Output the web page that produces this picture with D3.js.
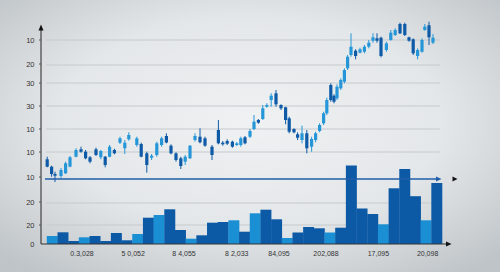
<!DOCTYPE html>
<html><head><meta charset="utf-8">
<script src="https://cdn.jsdelivr.net/npm/d3@7"></script>
<style>html,body{margin:0;padding:0;overflow:hidden;}svg{display:block;}</style>
</head><body>
<svg id="c" width="500" height="272"></svg>
<script>
// ---- data ----
const candleT = [1.3,2.4,3.25,4.75,5.9,7,8.5,9.75,10.9,12,13.5,14.7,15.8,16.9,18.1,19.5,20.7,21.7,23.7,24.8,26.2,27.4,28.7,29.9,31.1,32.25,33.5,34.7,35.8,37,38.25,39.5,40.75,42.5,44.1,45.2,46.3,47.6,48.7,49.7,50.75,52,53,54.1,55.2,56.2,57.3,58.5,59.75,60.9,61.8,63,63.9,65,66.2,67.4,68.4,69.4,70.4,71.2,72.2,73,73.75,74.7,75.6,76.4,77.25,78.4,79.5,80.6,81.7,82.75,83.75,84.75,86.1,87.2,88.3,89.5,90.7,91.75,92.8,93.9,95,95.7,96.75,97.75];
const candleOpen = [84.7,77.3,70,68,70.7,77.3,87.3,94.7,92.3,86.7,94.7,86.7,87.3,87.3,94,101.3,95.7,104.7,99,100,90.7,86.3,89,99,108,98.3,90.7,85.7,82.3,85.7,104,107.3,105.7,97.3,114,101.3,103,102.3,99,99,106.7,107.3,115,124,125,137.3,144,150.7,139,136.7,125.7,115,109.7,104,110.7,97.3,104,113,120.7,130.7,159,148.3,145.7,155.7,162.3,175.7,189,193.3,191.3,192.3,197.3,203.3,205.7,206.3,194,204,209,220,220,206.7,204.7,188,192.3,214,218.7,201.3];
const candleHigh = [87.3,78.3,72.3,76,82.3,88,95.7,97.3,94,88,96.3,94,88,99,95.3,107.3,104,111.7,107.3,101.3,92.3,90,102.3,107.3,110.7,99.7,91.7,87.3,89,99,110.7,115.7,107.3,99,124,103,104.7,103.3,102,107.3,108,115,129,125,139,140.7,150.7,154,139.7,137.3,127.3,115.7,111.7,118.3,114,107.3,112.3,120.7,132.3,146.3,160.7,149.7,159.7,165.7,175.7,189,210.7,194.7,196.3,199,204,210.7,210.7,207.3,202.3,214,215.7,221.3,221.3,207.3,205.7,195.7,205.7,220,222.3,210];
const candleLow = [76.7,67.3,62,65.7,70,76.7,86.7,91.3,84.7,80.7,88,84.7,76.7,86.7,89.7,100,90,103.3,97.3,86.7,71.3,84,87.3,97.3,100.7,89.7,82.3,75,79,85,102.3,100.7,97.3,84,99.7,98.3,99,96.3,98,97.3,99.7,106,114,120.3,124,136.3,137.3,137.3,134,119.7,110.7,110.7,104,100.7,90.7,92.3,101.7,111.7,119,129,142.3,140.7,144,154,160.7,174,187.3,184.7,190.7,190.7,195.7,201.3,201.3,186.7,192.3,203.3,208,210,208,202.3,189,184.7,191.3,213.3,199,200];
const candleClose = [77.3,70,68.3,74,80.7,86.7,94,92.3,85.7,82.3,89,93,79,97.3,90.7,105.7,101.3,109,105.7,87.3,79,88.3,100.7,105.7,101.5,90.7,84,78,87.3,98.3,108,101.7,98.3,89,100.7,99.7,100.3,97.3,100.7,105.7,100.7,113,122.3,121.3,135.7,139,148.3,139.7,135.7,124,112.3,111.7,106.3,110.7,95.7,105,110.7,119,130.7,144,144,142.3,157.3,164,174,187.3,197.3,188,194.7,197.3,201.3,206.7,203.3,188,200.7,211.3,214,210.7,209,203.3,190.7,194,204,217.3,206.7,206.3];

const volume = [8,11.7,3,6.7,8,3,11,3.7,10,26.3,29,34.7,14,5.3,8.7,21.3,22,23.7,12.3,30.7,34.3,24.7,6,11.5,17,15.7,11.5,16.3,78.5,35.5,30,19.7,55.7,75,47.8,23.7,61];
const volumeKind = ["b","a","a","b","a","a","a","a","b","a","b","a","a","b","a","a","a","b","a","b","a","a","b","a","a","a","b","a","a","a","a","b","a","a","a","b","a"];

const yTickValues = [204,180,161,138,115,92,67,42,19,0];
const yTickLabels = ["10","20","30","30","10","10","10","20","20","0"];
const gridValues = [204,179,161,138,115,92,41,19];
const thresholdValue = 65;

const xTickValues = [10,22.8,35.5,48.7,59.25,71,84.1,96.4];
const xTickLabels = ["0.3,028","5 0,052","8 4,055","8 2,033","84,095","202,088","17,095","20,098"];

// ---- drawing ----
const svg = d3.select("#c");
const defs = svg.append("defs");
const rg = defs.append("radialGradient").attr("id","bg").attr("cx","50%").attr("cy","45%").attr("r","70%");
rg.append("stop").attr("offset","0%").attr("stop-color","#eff1f2");
rg.append("stop").attr("offset","55%").attr("stop-color","#e4e7e9");
rg.append("stop").attr("offset","100%").attr("stop-color","#bfc4c8");
svg.append("rect").attr("width",500).attr("height",272).attr("fill","url(#bg)");

const x = d3.scaleLinear().domain([0,100]).range([42,442]);
const y = d3.scaleLinear().domain([0,204]).range([244,40]);

// gridlines
svg.append("g").selectAll("line").data(gridValues).join("line")
  .attr("x1",46).attr("x2",440)
  .attr("y1",d=>y(d)).attr("y2",d=>y(d))
  .attr("stroke","#c6cacd").attr("stroke-width",1);

// volume bars
const band = d3.scaleBand().domain(d3.range(volume.length)).range([x(1.2), x(100)]).padding(0);
svg.append("g").selectAll("rect").data(volume).join("rect")
  .attr("x",(d,i)=>band(i)).attr("width",band.bandwidth()+0.3)
  .attr("y",d=>y(d)).attr("height",d=>y(0)-y(d))
  .attr("fill",(d,i)=>volumeKind[i]==="b"?"#1b8fd3":"#0c5aa6");

// candles
const candles = candleT.map((t,i)=>({t,o:candleOpen[i],h:candleHigh[i],l:candleLow[i],c:candleClose[i]}));
const cg = svg.append("g");
const col = d=>d.c>=d.o?"#2597d8":"#0e5aa7";
cg.selectAll("line").data(candles).join("line")
  .attr("x1",d=>x(d.t)).attr("x2",d=>x(d.t))
  .attr("y1",d=>y(d.h)).attr("y2",d=>y(d.l))
  .attr("stroke",col).attr("stroke-width",1);
cg.selectAll("rect").data(candles).join("rect")
  .attr("x",d=>x(d.t)-1.6).attr("width",3.2)
  .attr("y",d=>y(Math.max(d.o,d.c)))
  .attr("height",d=>Math.max(1.2,Math.abs(y(d.o)-y(d.c))))
  .attr("fill",col);

// threshold line with arrow
const ty = y(thresholdValue);
svg.append("line").attr("x1",45).attr("x2",437).attr("y1",ty).attr("y2",ty)
  .attr("stroke","#1f5ea8").attr("stroke-width",1.6);
svg.append("path").attr("d",`M436,${ty-2.6}L441.5,${ty}L436,${ty+2.6}Z`).attr("fill","#1f5ea8");
svg.append("path").attr("d",`M452.5,${ty-2.6}L457.5,${ty}L452.5,${ty+2.6}Z`).attr("fill","#111");

// y axis
svg.append("line").attr("x1",41).attr("x2",41).attr("y1",29).attr("y2",y(0)).attr("stroke","#222").attr("stroke-width",1);
svg.append("path").attr("d","M38.5,30.5L41,24.5L43.5,30.5Z").attr("fill","#111");
const yg = svg.append("g");
yg.selectAll("text").data(yTickValues).join("text")
  .attr("x",34.5).attr("y",d=>y(d)).attr("dy","0.35em")
  .attr("text-anchor","end").attr("font-family","Liberation Sans, Arial, sans-serif")
  .attr("font-size",7.5).attr("fill","#333").text((d,i)=>yTickLabels[i]);
yg.selectAll("line").data(yTickValues.slice(0,-1)).join("line")
  .attr("x1",39).attr("x2",41).attr("y1",d=>y(d)).attr("y2",d=>y(d)).attr("stroke","#555");

// x axis baseline with arrow
svg.append("line").attr("x1",41).attr("x2",447).attr("y1",y(0)).attr("y2",y(0)).attr("stroke","#333").attr("stroke-width",1);
svg.append("path").attr("d",`M446,${y(0)-2.4}L451.5,${y(0)}L446,${y(0)+2.4}Z`).attr("fill","#111");
svg.append("g").selectAll("text").data(xTickValues).join("text")
  .attr("x",d=>x(d)).attr("y",256)
  .attr("text-anchor","middle").attr("font-family","Liberation Sans, Arial, sans-serif")
  .attr("font-size",7).attr("fill","#333").text((d,i)=>xTickLabels[i]);
</script>
</body></html>
